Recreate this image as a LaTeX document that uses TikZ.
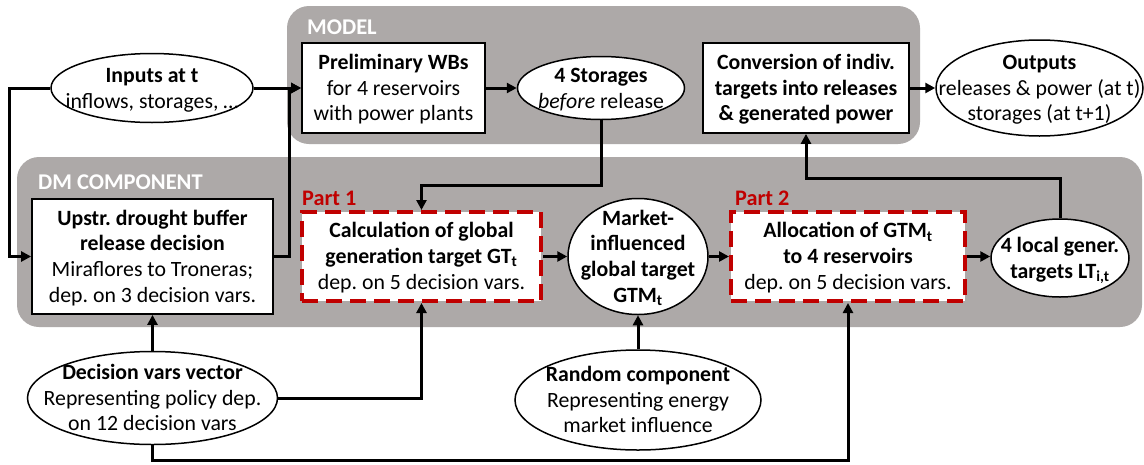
\documentclass[tikz,border=0pt]{standalone}
\usepackage{fontspec}
\setmainfont{Carlito}
\usetikzlibrary{shapes.geometric,arrows.meta}
\definecolor{panelgray}{RGB}{173,169,168}
\definecolor{partred}{RGB}{192,0,0}
\frenchspacing
% centred multi-line text that takes no room, so each shape keeps its given size
\newcommand{\ctext}[1]{\smash{\raisebox{-0.33em}{\makebox[0pt]{\begin{tabular}{@{}c@{}}#1\end{tabular}}}}}
\begin{document}
\begin{tikzpicture}[x=1pt,y=-1pt,
  every node/.style={font=\fontsize{21.8}{25.7}\selectfont, inner sep=0pt},
  panel/.style={fill=panelgray, rounded corners=22pt},
  procbox/.style={draw, line width=1.8pt, fill=white, rectangle},
  partbox/.style={draw=partred, line width=4pt, dash pattern=on 16pt off 8pt, fill=white, rectangle},
  oval/.style={draw, line width=1.5pt, fill=white, ellipse},
  paneltitle/.style={anchor=west, text=white, font=\fontsize{22.5}{25.7}\selectfont\bfseries},
  parttitle/.style={anchor=west, text=partred, font=\fontsize{22.2}{25.7}\selectfont\bfseries},
  conn/.style={line width=3pt, -{Triangle[length=10pt,width=10pt]}}
]
\fill[white] (0,0) rectangle (1144,464);
\useasboundingbox (0,0) rectangle (1144,464);

% panels
\fill[panel] (287,6) rectangle (920,144);
\fill[panel] (17,157) rectangle (1142,327);
\node[paneltitle] (modeltitle) at (307,27) {MODEL};
\node[paneltitle] (dmtitle) at (38,182) {DM COMPONENT};
\node[parttitle] (part1) at (302,198) {Part 1};
\node[parttitle] (part2) at (735,198) {Part 2};

% model row
\node[oval, minimum width=202pt, minimum height=69pt] (inputs) at (152,88)
  {\ctext{\textbf{Inputs at t}\\inflows, storages, …}};
\node[procbox, minimum width=183pt, minimum height=90pt] (prelim) at (393.5,88)
  {\ctext{\textbf{Preliminary WBs}\\for 4 reservoirs\\with power plants}};
\node[oval, minimum width=167pt, minimum height=63pt] (stor) at (601,88)
  {\ctext{\textbf{4 Storages}\\\textit{before} release}};
\node[procbox, minimum width=206pt, minimum height=90pt] (conv) at (806,88)
  {\ctext{\textbf{Conversion of indiv.}\\\textbf{targets into releases}\\\textbf{\& generated power}}};
\node[oval, minimum width=207pt, minimum height=96pt] (outputs) at (1039.5,88)
  {\ctext{\textbf{Outputs}\\releases \& power (at t)\\storages (at t+1)}};

% decision-making row
\node[procbox, minimum width=241pt, minimum height=115pt] (upstr) at (152.5,256.5)
  {\ctext{\textbf{Upstr. drought buffer}\\\textbf{release decision}\\Miraflores to Troneras;\\dep. on 3 decision vars.}};
\node[partbox, minimum width=239pt, minimum height=89pt] (calc) at (421.5,256.5)
  {\ctext{\textbf{Calculation of global}\\\textbf{generation target GT\textsubscript{t}}\\dep. on 5 decision vars.}};
\node[oval, minimum width=140pt, minimum height=116pt] (gtm) at (638,256.5)
  {\ctext{\textbf{Market-}\\\textbf{influenced}\\\textbf{global target}\\\textbf{GTM\textsubscript{t}}}};
\node[partbox, minimum width=234pt, minimum height=89pt] (alloc) at (848,256.5)
  {\ctext{\textbf{Allocation of GTM\textsubscript{t}}\\\textbf{to 4 reservoirs}\\dep. on 5 decision vars.}};
\node[oval, minimum width=138pt, minimum height=78pt] (local) at (1060,258)
  {\ctext{\textbf{4 local gener.}\\\textbf{targets LT\textsubscript{i,t}}}};

% external drivers
\node[oval, minimum width=250pt, minimum height=93pt] (dvec) at (152.5,398)
  {\ctext{\textbf{Decision vars vector}\\Representing policy dep.\\on 12 decision vars}};
\node[oval, minimum width=246pt, minimum height=100pt] (rand) at (638,400)
  {\ctext{\textbf{Random component}\\Representing energy\\market influence}};

% bend points
\coordinate (lbend) at (9,88);
\coordinate (mbend) at (289,256.5);
\coordinate (sbend) at (601,185);
\coordinate (cbend) at (1060,178);
\coordinate (bbend) at (152.5,460);

% connectors
\draw[conn] (inputs.west) -- (lbend) |- (upstr.west);
\draw[conn] (inputs.east) -- (prelim.west);
\draw[conn] (upstr.east) -- (mbend) |- (prelim.west);
\draw[conn] (prelim.east) -- (stor.west);
\draw[conn] (stor.south) -- (sbend) -| (calc.north);
\draw[conn] (calc.east) -- (gtm.west);
\draw[conn] (gtm.east) -- (alloc.west);
\draw[conn] (alloc.east) -- (alloc.east -| local.west);
\draw[conn] (local.north) -- (cbend) -| (conv.south);
\draw[conn] (conv.east) -- (outputs.west);
\draw[conn] (dvec.north) -- (upstr.south);
\draw[conn] (dvec.east) -| (calc.south);
\draw[conn] (dvec.south) -- (bbend) -| (alloc.south);
\draw[conn] (rand.north) -- (gtm.south);
\end{tikzpicture}
\end{document}
